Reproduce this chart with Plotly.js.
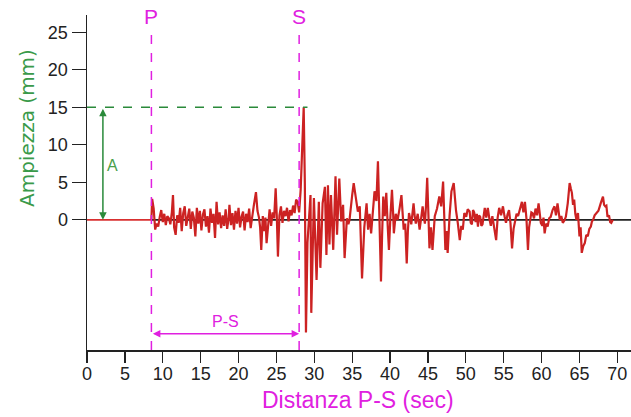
<!DOCTYPE html>
<html>
<head>
<meta charset="utf-8">
<script src="https://cdn.plot.ly/plotly-3.0.1.min.js"></script>
<style>html,body{margin:0;padding:0;background:#fff;}#chart{width:631px;height:417px;}</style>
</head>
<body>
<div id="chart"></div>
<script>
// Seismogram samples: [time (sec), amplitude (mm)]
const seismogram = [
[8.5,0],[8.6,2.8],[8.8,1.5],[9.0,-1.3],[9.2,-0.5],[9.4,-0.9],[9.6,0.4],[9.8,1.3],[10.0,-0.3],[10.2,0.8],[10.4,-0.7],[10.6,0.5],[10.8,0.2],[11.0,-0.6],[11.2,1.0],[11.35,3.3],[11.5,-1.0],[11.7,-2.0],[11.9,0.6],[12.1,-0.4],[12.3,1.6],[12.5,-1.5],[12.7,0.9],[12.9,1.8],[13.1,-0.8],[13.3,0.4],[13.5,1.5],[13.7,-1.2],[13.9,1.1],[14.1,0.3],[14.3,-2.2],[14.5,1.6],[14.7,-0.5],[14.9,1.2],[15.1,-1.4],[15.3,0.7],[15.5,1.4],[15.7,-0.9],[15.9,0.5],[16.1,-1.7],[16.3,1.5],[16.5,-0.4],[16.7,0.8],[16.9,-2.4],[17.1,2.4],[17.3,-0.6],[17.5,1.0],[17.7,-1.1],[17.9,0.6],[18.1,-0.8],[18.3,1.4],[18.5,-1.2],[18.7,0.3],[18.8,2.0],[19.0,-0.7],[19.2,0.9],[19.4,-1.3],[19.6,1.2],[19.8,-0.5],[20.0,1.6],[20.2,-1.0],[20.4,0.4],[20.6,1.1],[20.8,-1.4],[21.0,0.8],[21.2,-0.3],[21.4,1.5],[21.6,-1.1],[21.8,0.6],[22.0,1.8],[22.3,3.7],[22.5,1.2],[22.7,0.3],[22.85,-1.0],[23.0,-4.0],[23.2,0.5],[23.4,-1.5],[23.55,0.3],[23.7,-3.1],[23.9,-0.2],[24.1,1.4],[24.3,-0.8],[24.5,1.0],[24.7,0.2],[24.9,4.2],[25.05,0.5],[25.2,-4.9],[25.4,0.6],[25.6,1.8],[25.8,-0.4],[26.0,1.2],[26.2,0.5],[26.4,1.6],[26.6,-0.2],[26.8,1.3],[27.0,0.6],[27.2,1.9],[27.4,0.9],[27.6,2.7],[27.8,2.4],[28.0,1.0],[28.2,4.0],[28.4,9.0],[28.6,15.0],[28.75,5.0],[28.9,-15.0],[29.1,-3.0],[29.25,0],[29.5,3.3],[29.6,-12.4],[29.95,2.9],[30.3,-8.0],[30.6,2.4],[30.8,-6.4],[31.1,2.2],[31.4,4.4],[31.6,-4.7],[31.8,4.6],[32.0,-3.3],[32.2,3.3],[32.5,-4.0],[32.8,5.8],[33.0,-2.0],[33.3,5.5],[33.55,-0.2],[33.8,2.0],[34.0,-5.1],[34.3,0.2],[34.5,-0.6],[34.65,0],[34.85,1.5],[35.0,3.3],[35.2,4.9],[35.45,3.3],[35.6,2.2],[35.75,1.1],[36.0,1.8],[36.3,-7.8],[36.6,-1.0],[36.9,2.2],[37.1,-1.3],[37.3,0.8],[37.5,-1.8],[37.7,1.0],[37.95,3.8],[38.2,2.5],[38.4,7.8],[38.6,0],[38.8,-8.2],[38.95,-2.0],[39.1,3.1],[39.3,0.5],[39.5,3.6],[39.7,-1.0],[39.85,-4.0],[40.05,0.5],[40.25,4.0],[40.4,1.0],[40.5,-1.8],[40.75,0.8],[41.0,0],[41.25,1.5],[41.5,3.3],[41.65,1.0],[41.8,-1.3],[42.0,-0.5],[42.2,-5.8],[42.35,-1.5],[42.5,0.9],[42.8,-0.6],[43.1,2.2],[43.25,0.5],[43.4,-0.5],[43.65,0.8],[43.9,-1.3],[44.1,0.2],[44.3,1.8],[44.45,0.4],[44.6,-0.5],[44.75,2.0],[44.9,5.6],[45.05,1.0],[45.2,-3.8],[45.4,-1.0],[45.6,-4.0],[45.9,0.5],[46.2,1.5],[46.5,3.1],[46.75,1.8],[47.0,5.1],[47.15,1.0],[47.3,-4.0],[47.45,-1.5],[47.6,-4.4],[47.85,0.5],[48.1,3.8],[48.4,4.9],[48.55,2.5],[48.7,1.3],[48.95,-0.5],[49.2,-2.7],[49.4,-0.8],[49.6,-1.3],[49.8,0.9],[50.05,0.4],[50.25,1.4],[50.5,1.1],[50.65,-0.4],[50.8,-0.6],[50.95,1.3],[51.1,1.0],[51.3,-0.3],[51.45,0.8],[51.6,-0.9],[51.75,0.6],[51.9,0.4],[52.05,-0.8],[52.2,-0.6],[52.35,0.9],[52.5,1.6],[52.7,0.3],[52.9,1.6],[53.1,0.2],[53.3,-0.8],[53.5,0.5],[53.65,-0.3],[53.8,-1.6],[54.0,-2.7],[54.2,0.3],[54.4,1.6],[54.65,0.6],[54.9,1.8],[55.1,0.5],[55.3,-0.4],[55.5,0.7],[55.7,1.3],[55.9,-0.5],[56.1,-3.8],[56.3,-1.2],[56.5,-0.2],[56.7,0.8],[56.9,0.5],[57.1,1.2],[57.4,2.4],[57.6,1.0],[57.8,2.4],[58.0,0.2],[58.2,-4.0],[58.35,-1.0],[58.5,0.0],[58.65,1.0],[58.8,0.9],[59.0,0.2],[59.2,1.5],[59.4,0.6],[59.6,2.2],[59.75,0.8],[59.9,-0.4],[60.1,-0.8],[60.25,0.3],[60.4,-1.8],[60.6,-0.5],[60.8,-0.9],[61.0,0.2],[61.2,0.4],[61.45,1.3],[61.7,1.8],[61.9,0.6],[62.1,2.2],[62.25,0.8],[62.4,0],[62.6,0.5],[62.8,-0.4],[63.0,-0.1],[63.2,0.4],[63.45,2.2],[63.7,4.9],[63.85,4.2],[64.0,3.6],[64.15,2.0],[64.3,2.7],[64.45,0.8],[64.6,0],[64.8,0.9],[65.0,-2.2],[65.15,-1.0],[65.3,-4.4],[65.5,-3.5],[65.7,-3.1],[65.9,-2.0],[66.1,-2.2],[66.3,-1.2],[66.5,-0.9],[66.65,-0.2],[66.8,0],[67.0,0.6],[67.2,0.9],[67.5,1.2],[67.8,2.2],[67.95,2.8],[68.1,3.1],[68.25,2.0],[68.4,1.8],[68.55,1.9],[68.7,0.4],[68.9,0.6],[69.05,-0.3],[69.2,-0.4],[69.4,0]
];
const timeSec = seismogram.map(p => p[0]);
const amplitudeMm = seismogram.map(p => p[1]);

const xTickVals = [0,5,10,15,20,25,30,35,40,45,50,55,60,65,70];
const yTickVals = [0,5,10,15,20,25];

const pArrival = 8.5;   // P wave arrival (sec)
const sArrival = 28;    // S wave arrival (sec)
const maxAmp = 15;      // max amplitude A (mm)

const xRange = [0, 71.8];
const yRange = [-17.35, 27.3];

const magenta = '#e020e0';
const green = '#2a8a3a';
const red = '#cc2222';

const traces = [
  {x:[pArrival, xRange[1]], y:[0,0], mode:'lines', line:{color:'#222', width:1.8}, hoverinfo:'skip', showlegend:false},
  {x:[0, pArrival], y:[0,0], mode:'lines', line:{color:'#d83030', width:1.8}, hoverinfo:'skip', showlegend:false},
  {x:timeSec, y:amplitudeMm, mode:'lines', line:{color:red, width:2.2}, showlegend:false}
];

const layout = {
  width:631, height:417,
  margin:{l:87, r:0, t:15, b:67},
  paper_bgcolor:'#fff', plot_bgcolor:'#fff',
  font:{family:'Liberation Sans, Arial, sans-serif', size:18, color:'#222'},
  showlegend:false,
  xaxis:{
    range:xRange, showgrid:false, zeroline:false,
    showline:true, linecolor:'#222', linewidth:1.5,
    tickmode:'array', tickvals:xTickVals, ticks:'outside', ticklen:11, tickcolor:'#222', tickwidth:1.3,
    ticklabelstandoff:-4,
    tickfont:{size:18, color:'#222'}
  },
  yaxis:{
    range:yRange, showgrid:false, zeroline:false,
    showline:true, linecolor:'#222', linewidth:1.5,
    tickmode:'array', tickvals:yTickVals, ticks:'outside', ticklen:14, tickcolor:'#222', tickwidth:1.3,
    tickfont:{size:18, color:'#222'}
  },
  shapes:[
    {type:'line', xref:'x', yref:'y', x0:pArrival, x1:pArrival, y0:yRange[0], y1:25.3, line:{color:magenta, width:1.5, dash:'dash'}},
    {type:'line', xref:'x', yref:'y', x0:sArrival, x1:sArrival, y0:yRange[0], y1:25.3, line:{color:magenta, width:1.5, dash:'dash'}},
    {type:'line', xref:'x', yref:'y', x0:0, x1:sArrival+1.1, y0:maxAmp, y1:maxAmp, line:{color:green, width:1.5, dash:'dash'}}
  ],
  annotations:[
    {x:pArrival, y:27.1, xref:'x', yref:'y', text:'P', showarrow:false, font:{size:21, color:magenta}, yanchor:'middle'},
    {x:sArrival, y:27.1, xref:'x', yref:'y', text:'S', showarrow:false, font:{size:21, color:magenta}, yanchor:'middle'},
    {x:2.1, y:0, ax:2.1, ay:maxAmp, xref:'x', yref:'y', axref:'x', ayref:'y', text:'', showarrow:true, arrowhead:2, arrowside:'end+start', arrowsize:1, arrowwidth:1.5, arrowcolor:green},
    {x:3.4, y:7.2, xref:'x', yref:'y', text:'A', showarrow:false, font:{size:16, color:'#4aa04a'}},
    {x:sArrival, y:-15.2, ax:pArrival, ay:-15.2, xref:'x', yref:'y', axref:'x', ayref:'y', text:'', showarrow:true, arrowhead:2, arrowside:'end+start', arrowsize:1, arrowwidth:1.5, arrowcolor:magenta},
    {x:(pArrival+sArrival)/2, y:-13.6, xref:'x', yref:'y', text:'P-S', showarrow:false, font:{size:16, color:magenta}},
    {x:0, y:0, xref:'paper', yref:'paper', text:'Distanza P-S (sec)', showarrow:false, font:{size:23, color:magenta}, xanchor:'center', yanchor:'middle'},
    {x:0, y:0, xref:'paper', yref:'paper', text:'Ampiezza (mm)', textangle:-90, showarrow:false, font:{family:'DejaVu Sans, sans-serif', size:20, color:'#3a9a4a'}, xanchor:'center', yanchor:'middle'}
  ]
};

// place the two axis-title annotations from page pixels to paper coordinates
const plotW = layout.width - layout.margin.l - layout.margin.r;
const plotH = layout.height - layout.margin.t - layout.margin.b;
function toPaperX(px){ return (px - layout.margin.l) / plotW; }
function toPaperY(py){ return (layout.height - layout.margin.b - py) / plotH; }
layout.annotations[6].x = toPaperX(358); layout.annotations[6].y = toPaperY(400);
layout.annotations[7].x = toPaperX(27);  layout.annotations[7].y = toPaperY(128);

Plotly.newPlot('chart', traces, layout, {displayModeBar:false, staticPlot:true});
</script>
</body>
</html>
